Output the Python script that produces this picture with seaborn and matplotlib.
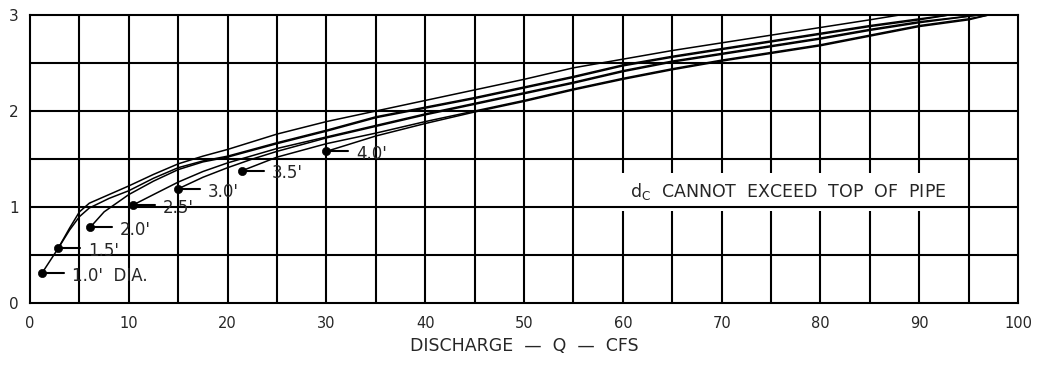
import pandas as pd
import seaborn as sns
import matplotlib.pyplot as plt

# critical depth curves (Q in cfs, dc in ft)
d10_q = [1.2, 2.85, 4, 5, 6, 8, 10, 12.5, 15, 17.5, 20, 25, 30, 35, 40, 45, 50, 55, 60, 65, 70, 75, 80, 85, 88]
d10_dc = [0.31, 0.57, 0.78, 0.95, 1.04, 1.13, 1.22, 1.34, 1.45, 1.53, 1.60, 1.76, 1.89, 2.00, 2.11, 2.22, 2.33, 2.45, 2.54, 2.63, 2.71, 2.79, 2.87, 2.95, 3.00]

d15_q = [2.85, 4, 5, 6, 8, 10, 12.5, 15, 17.5, 20, 25, 30, 35, 40, 45, 50, 55, 60, 65, 70, 75, 80, 85, 90, 93]
d15_dc = [0.57, 0.76, 0.90, 0.99, 1.09, 1.17, 1.30, 1.41, 1.48, 1.53, 1.67, 1.80, 1.94, 2.04, 2.14, 2.25, 2.36, 2.48, 2.57, 2.65, 2.73, 2.81, 2.89, 2.96, 3.00]

d20_q = [6.1, 7.5, 10, 12.5, 15, 17.5, 20, 25, 30, 35, 40, 45, 50, 55, 60, 65, 70, 75, 80, 85, 90, 93]
d20_dc = [0.79, 0.95, 1.13, 1.27, 1.39, 1.47, 1.52, 1.66, 1.79, 1.93, 2.03, 2.13, 2.24, 2.35, 2.47, 2.56, 2.64, 2.72, 2.80, 2.88, 2.95, 3.00]

d25_q = [10.4, 12.5, 15, 17.5, 20, 25, 30, 35, 40, 45, 50, 55, 60, 65, 70, 75, 80, 85, 90, 96]
d25_dc = [1.02, 1.13, 1.26, 1.37, 1.46, 1.61, 1.73, 1.85, 1.97, 2.08, 2.19, 2.30, 2.42, 2.52, 2.60, 2.68, 2.76, 2.85, 2.93, 3.00]

d30_q = [15, 17.5, 20, 22.5, 25, 30, 35, 40, 45, 50, 55, 60, 65, 70, 75, 80, 85, 90, 96]
d30_dc = [1.19, 1.31, 1.41, 1.50, 1.58, 1.72, 1.84, 1.96, 2.07, 2.18, 2.29, 2.41, 2.51, 2.59, 2.67, 2.75, 2.84, 2.92, 3.00]

d35_q = [21.5, 25, 30, 35, 40, 45, 50, 55, 60, 65, 70, 75, 80, 85, 90, 95, 97]
d35_dc = [1.38, 1.52, 1.66, 1.77, 1.89, 2.00, 2.11, 2.23, 2.34, 2.44, 2.53, 2.61, 2.69, 2.79, 2.89, 2.96, 3.00]

d40_q = [30, 32.5, 35, 40, 45, 50, 55, 60, 65, 70, 75, 80, 85, 90, 95, 97]
d40_dc = [1.58, 1.66, 1.74, 1.87, 1.99, 2.10, 2.22, 2.33, 2.43, 2.52, 2.60, 2.68, 2.78, 2.88, 2.95, 3.00]

# start points of each pipe diameter and their labels
dot_q = [1.2, 2.85, 6.1, 10.4, 15.0, 21.5, 30.0]
dot_dc = [0.31, 0.57, 0.79, 1.02, 1.19, 1.38, 1.58]
dot_labels = ["1.0'  DIA.", "1.5'", "2.0'", "2.5'", "3.0'", "3.5'", "4.0'"]

x_ticks = [0, 10, 20, 30, 40, 50, 60, 70, 80, 90, 100]
x_ticklabels = ['0', '10', '20', '30', '40', '50', '60', '70', '80', '90', '100']
y_ticks = [0, 1, 2, 3]

curves = {'1.0': (d10_q, d10_dc), '1.5': (d15_q, d15_dc), '2.0': (d20_q, d20_dc),
          '2.5': (d25_q, d25_dc), '3.0': (d30_q, d30_dc), '3.5': (d35_q, d35_dc),
          '4.0': (d40_q, d40_dc)}
df = pd.concat([pd.DataFrame({'q': q, 'dc': dc, 'dia': k}) for k, (q, dc) in curves.items()])

sns.set_theme(style="white")
plt.rcParams['font.family'] = ['DejaVu Sans']

fig = plt.figure(figsize=(10.39, 3.66), dpi=100)
ax = fig.add_axes([0.0289, 0.172, 0.951, 0.787])

# grid every 5 cfs / 0.5 ft
for gx in range(5, 100, 5):
    ax.axvline(gx, color='black', lw=1.5, zorder=1)
for gy in [0.5, 1.0, 1.5, 2.0, 2.5]:
    ax.axhline(gy, color='black', lw=1.5, zorder=6)

sns.lineplot(data=df, x='q', y='dc', hue='dia', units='dia', estimator=None, sort=False,
             palette=['black'] * 7, lw=1.1, legend=False, ax=ax, zorder=3)
sns.scatterplot(x=dot_q, y=dot_dc, color='black', marker='o', s=35, edgecolor='black',
                ax=ax, zorder=7)

for q, dc, lab in zip(dot_q, dot_dc, dot_labels):
    ax.plot([q, q + 2.2], [dc, dc], color='black', lw=1.5, zorder=7)
    ax.text(q + 3.0, dc - 0.03, lab, fontsize=12, va='center', ha='left', zorder=7)

ax.text(76.7, 1.16, r"$\mathregular{d_C}$  CANNOT  EXCEED  TOP  OF  PIPE", fontsize=12.5,
        ha='center', va='center', zorder=5,
        bbox=dict(facecolor='white', edgecolor='none', pad=6))

ax.set_xlim(0, 100)
ax.set_ylim(0, 3)
ax.set_xticks(x_ticks)
ax.set_xticklabels(x_ticklabels, fontsize=10.5)
ax.set_yticks(y_ticks)
ax.set_yticklabels([str(v) for v in y_ticks], fontsize=11)
ax.tick_params(length=0, pad=9)
ax.tick_params(axis='y', pad=8)
ax.set_xlabel('DISCHARGE  —  Q  —  CFS', fontsize=12.5, labelpad=5)
ax.set_ylabel('')
for s in ax.spines.values():
    s.set_color('black')
    s.set_linewidth(1.5)

plt.savefig('out.png', dpi=100)
